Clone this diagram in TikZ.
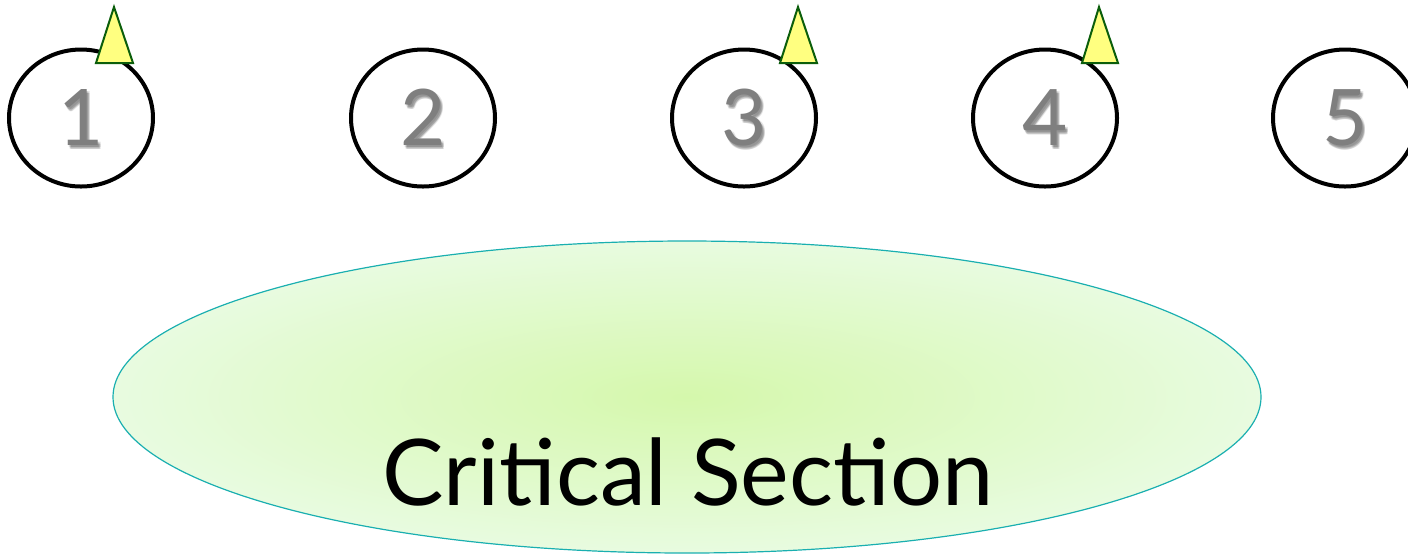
\documentclass[tikz,border=0pt]{standalone}
\usepackage{fontspec}
\setmainfont{Lato}
\usetikzlibrary{shapes.geometric}
\definecolor{digitgray}{HTML}{7F7F7F}
\definecolor{csline}{HTML}{1AAFB0}
\definecolor{csin}{HTML}{D5F8AC}
\definecolor{csout}{HTML}{E8FBE0}
\definecolor{tokfill}{HTML}{FFFF80}
\definecolor{tokline}{HTML}{0B5E0B}
\tikzset{
  proc/.style={draw=black, line width=2pt, ellipse, inner sep=0pt,
    minimum width=72pt, minimum height=68.5pt},
  digit/.style={text=digitgray, font=\fontsize{39}{39}\selectfont, inner sep=0pt, anchor=base},
  digitshadow/.style={text=black, opacity=0.10, font=\fontsize{39}{39}\selectfont, inner sep=0pt, anchor=base},
  token/.style={fill=tokfill, draw=tokline, line width=1pt, line join=miter},
  cs/.style={ellipse, draw=csline, line width=0.6pt, inner sep=0pt,
    minimum width=574pt, minimum height=156pt, inner color=csin, outer color=csout},
  cstext/.style={font=\fontsize{46}{46}\selectfont, inner sep=0pt, anchor=base}
}
\begin{document}
\begin{tikzpicture}[x=0.5pt,y=-0.5pt]
\useasboundingbox (0,0) rectangle (1408,554);
% critical section
\node[cs] (cs) at (687,397) {};
\node[cstext] (cst) at (688,505) {Critical Section};
% processes
\foreach \i/\x in {1/81,2/423,3/744,4/1045,5/1345}{
  \node[proc] (c\i) at (\x,118) {};
  \foreach \dx/\dy in {1/2,3/2,2/4,2/3,3/4}{
    \node[digitshadow] at ([xshift=\dx*0.5pt,yshift=-\dy*0.5pt-13.5pt]c\i.center) {\i};
  }
  \node[digit] (n\i) at ([yshift=-13.5pt]c\i.center) {\i};
}
% tokens
\draw[token] (114,7) -- (133,63) -- (96,63) -- cycle;
\draw[token] (798,7) -- (817,63) -- (780,63) -- cycle;
\draw[token] (1099,7) -- (1118,63) -- (1082,63) -- cycle;
\end{tikzpicture}
\end{document}
